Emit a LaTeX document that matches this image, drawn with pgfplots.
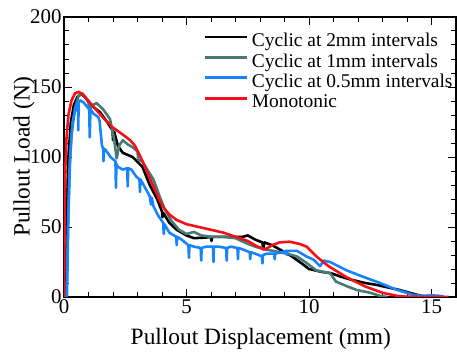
\documentclass[border=0pt]{standalone}
\usepackage{fontspec}
\setmainfont{Liberation Serif}
\usepackage{pgfplots}
\pgfplotsset{compat=1.18}
\definecolor{cteal}{RGB}{70,122,116}
\definecolor{cblue}{RGB}{22,132,255}
\definecolor{cred}{RGB}{245,15,25}
\begin{document}
\begin{tikzpicture}
\useasboundingbox (-64bp,-59bp) rectangle (393bp,297bp);
\begin{axis}[
  scale only axis,
  width=392bp, height=280bp,
  xmin=0, xmax=16, ymin=0, ymax=200,
  xtick={0,5,10,15}, ytick={0,50,100,150,200},
  minor x tick num=4, minor y tick num=4,
  major tick length=8bp, minor tick length=5bp,
  tick align=inside,
  axis line style={line width=1.2pt},
  every tick/.style={black, line width=1pt},
  /pgf/number format/assume math mode=true,
  ticklabel style={font=\fontsize{21}{21}\selectfont},
  xticklabel style={yshift=1bp},
  yticklabel style={xshift=1bp},
  xlabel={Pullout Displacement (mm)},
  ylabel={Pullout Load (N)},
  label style={font=\fontsize{23.5}{24}\selectfont},
  xlabel style={at={(axis description cs:0.502,-0.1)}, anchor=north},
  ylabel style={at={(axis description cs:-0.088,0.5)}, anchor=base},
  legend style={at={(rel axis cs:0.355,0.9475)}, anchor=north west, draw=none, fill=none,
    inner sep=0pt, outer sep=0pt, row sep=0pt, column sep=3pt,
    font=\fontsize{19.5}{20}\selectfont,
    nodes={inner sep=1pt, text height=14pt, text depth=4.5pt}},
  legend cell align=left,
  legend image code/.code={\draw[#1, line width=2.7pt] (0bp,5bp) -- (42bp,5bp);},
  every axis plot/.append style={line width=2.6pt, line join=round},
]
% Cyclic at 2mm (black)
\addplot[black] coordinates {
(0.05,0) (0.1,50) (0.18,100) (0.28,125) (0.4,137) (0.55,143) (0.7,145) (0.85,143)
(1.1,137) (1.47,132) (1.8,124) (1.98,119) (2.0,112) (2.05,118) (2.2,108) (2.4,103) (2.8,100)
(3.2,93) (3.5,80) (3.8,70) (4.0,61) (4.02,57) (4.05,60) (4.3,53) (4.6,48) (5.0,44) (5.3,42)
(5.8,42.5) (6.0,43) (6.02,40) (6.05,43) (6.8,43) (7.3,43) (7.5,44) (7.8,41) (8.1,39) (8.13,34) (8.18,39)
(8.5,37) (8.9,33) (9.3,29) (9.7,24) (10.0,20) (10.5,18) (10.9,17) (11.3,14.5) (11.8,12)
(12.3,10) (12.8,8.5) (13.3,6.5) (13.7,5) (14.1,3) (14.5,1.2) (14.7,0.5)
};
\addlegendentry{Cyclic at 2mm intervals}
% Cyclic at 1mm (teal)
\addplot[cteal] coordinates {
(0.1,0) (0.15,40) (0.22,90) (0.3,115) (0.45,135) (0.6,144) (0.75,145.5) (0.9,142)
(1.0,140) (1.03,133) (1.15,137) (1.33,138.5) (1.6,134) (1.88,127) (2.05,112) (2.15,99)
(2.25,108) (2.4,112) (2.6,109) (2.8,107) (3.0,104) (3.03,98) (3.2,97) (3.4,91) (3.65,84)
(3.9,72) (4.1,63) (4.4,54) (4.7,48) (5.0,45) (5.3,46.5) (5.6,44) (6.0,43) (6.5,43)
(7.0,42) (7.5,38) (7.8,36) (8.2,34) (8.8,32) (9.1,31) (9.5,29) (9.76,26) (10.0,23)
(10.3,19) (10.86,17) (11.1,11) (11.5,8) (11.95,5) (12.5,3) (12.9,0.8) (13.2,0)
};
\addlegendentry{Cyclic at 1mm intervals}
% Cyclic at 0.5mm (blue)
\addplot[cblue] coordinates {
(0.12,0) (0.18,60) (0.25,100) (0.35,125) (0.48,136) (0.57,139) (0.58,119) (0.6,139)
(0.65,140.5) (0.8,139) (1.03,134) (1.05,114) (1.08,134) (1.2,131) (1.4,128.5) (1.45,126)
(1.55,108) (1.6,106) (1.61,97) (1.63,106) (1.7,105) (1.9,100) (2.1,97) (2.12,78) (2.14,95)
(2.2,93) (2.4,91) (2.58,92) (2.6,79) (2.62,92) (2.75,91) (2.95,86) (3.08,84) (3.1,75)
(3.12,84) (3.25,80) (3.5,72) (3.55,66) (3.58,71) (3.65,65) (3.85,58) (4.05,53) (4.07,45)
(4.1,52) (4.3,46) (4.58,43) (4.6,37) (4.62,43) (4.8,41) (5.08,37) (5.1,28) (5.12,37)
(5.3,36) (5.58,35) (5.6,26) (5.62,35) (5.8,36) (6.08,36) (6.1,25) (6.12,36) (6.3,36)
(6.62,35) (6.64,26) (6.66,35) (6.8,36) (7.08,35) (7.1,27) (7.12,35) (7.3,34) (7.58,32)
(7.6,27) (7.62,32) (7.8,31) (8.08,29) (8.1,24) (8.12,30) (8.3,31) (8.58,31) (8.6,27)
(8.62,31) (8.9,32) (9.08,33) (9.1,30) (9.12,33) (9.5,33) (9.9,29) (10.2,26.5) (10.45,22)
(10.6,26) (10.86,25) (11.2,22) (11.54,19) (12.2,14.5) (12.9,10) (13.6,5) (14.26,1.5)
(14.6,0.8) (15.0,1.2) (15.35,0.8) (15.5,0.3)
};
\addlegendentry{Cyclic at 0.5mm intervals}
% Monotonic (red)
\addplot[cred] coordinates {
(0,0) (0.02,40) (0.05,90) (0.1,113) (0.18,130) (0.3,140) (0.45,145.5) (0.6,146.5)
(0.75,145) (1.0,140) (1.3,134) (1.6,128) (2.0,121) (2.4,116) (2.7,112) (2.9,108)
(3.1,101) (3.3,93) (3.5,85) (3.7,77) (3.9,69) (4.1,63) (4.3,59) (4.6,55) (5.0,52)
(5.5,50) (6.0,48) (6.5,46) (7.0,43) (7.5,40) (7.9,36) (8.2,34) (8.5,37) (8.8,39)
(9.2,39.5) (9.6,38) (9.9,36) (10.3,29) (10.8,22) (11.5,14.5) (12.3,7.5) (13.0,3)
(13.6,0.8) (14,0.2) (15.7,0)
};
\addlegendentry{Monotonic}
\end{axis}
\end{tikzpicture}
\end{document}
